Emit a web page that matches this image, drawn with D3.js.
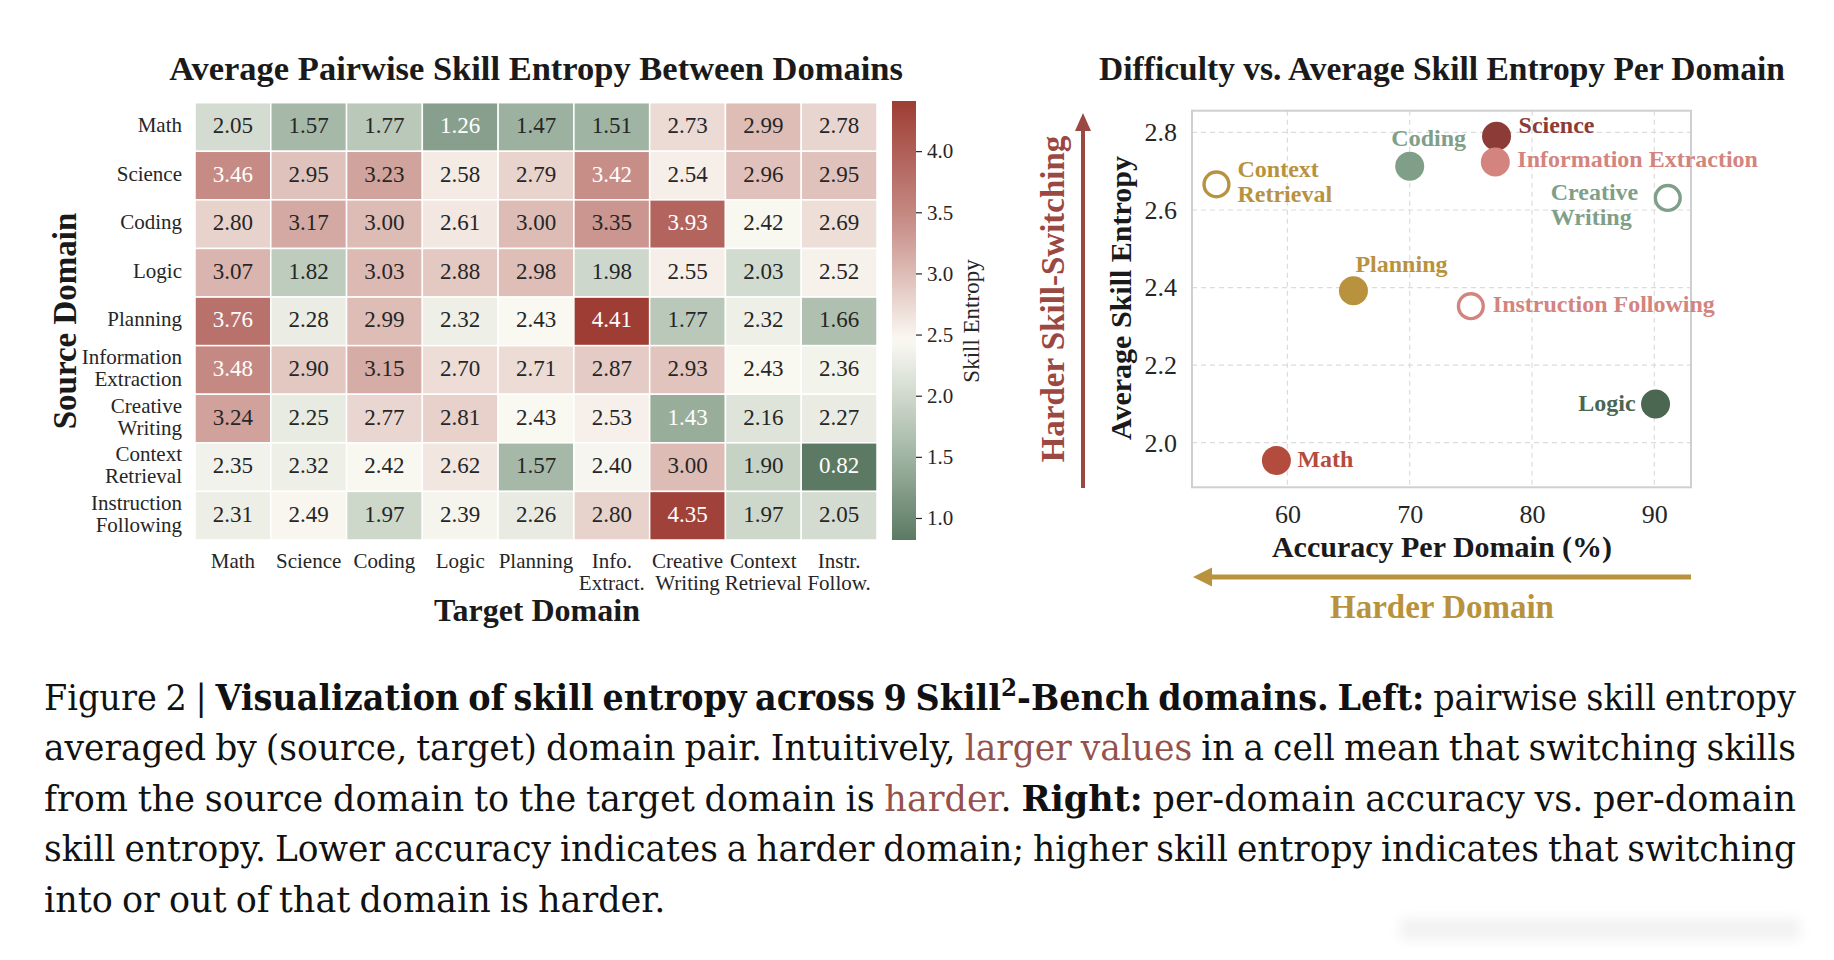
<!DOCTYPE html>
<html lang="en">
<head>
  <meta charset="UTF-8">
  <title>Skill Entropy Figure</title>
  <script src="https://d3js.org/d3.v7.min.js"></script>
  <style>
    body {
      margin: 0;
      padding: 0;
      background: #ffffff;
    }

    svg text {
      font-family: "Liberation Serif", "Times New Roman", serif;
    }

    .caption text {
      font-family: "DejaVu Serif", serif;
    }
  </style>
</head>
<body>
  <svg id="fig" width="1834" height="960"></svg>

  <script>
    // ---- heatmap data (rows = source domain, cols = target domain)
    const rowLabels = ["Math", "Science", "Coding", "Logic", "Planning", "Information\nExtraction",
      "Creative\nWriting", "Context\nRetrieval", "Instruction\nFollowing"];
    const colLabels = ["Math", "Science", "Coding", "Logic", "Planning", "Info.\nExtract.",
      "Creative\nWriting", "Context\nRetrieval", "Instr.\nFollow."];
    const entropyMatrix = [
      [2.05, 1.57, 1.77, 1.26, 1.47, 1.51, 2.73, 2.99, 2.78],
      [3.46, 2.95, 3.23, 2.58, 2.79, 3.42, 2.54, 2.96, 2.95],
      [2.80, 3.17, 3.00, 2.61, 3.00, 3.35, 3.93, 2.42, 2.69],
      [3.07, 1.82, 3.03, 2.88, 2.98, 1.98, 2.55, 2.03, 2.52],
      [3.76, 2.28, 2.99, 2.32, 2.43, 4.41, 1.77, 2.32, 1.66],
      [3.48, 2.90, 3.15, 2.70, 2.71, 2.87, 2.93, 2.43, 2.36],
      [3.24, 2.25, 2.77, 2.81, 2.43, 2.53, 1.43, 2.16, 2.27],
      [2.35, 2.32, 2.42, 2.62, 1.57, 2.40, 3.00, 1.90, 0.82],
      [2.31, 2.49, 1.97, 2.39, 2.26, 2.80, 4.35, 1.97, 2.05]
    ];
    const colorbarTicks = [1.0, 1.5, 2.0, 2.5, 3.0, 3.5, 4.0];

    // ---- scatter data
    const domainNames = ["Math", "Science", "Coding", "Logic", "Planning", "Information Extraction",
      "Creative Writing", "Context Retrieval", "Instruction Following"];
    const pointLabels = ["Math", "Science", "Coding", "Logic", "Planning", "Information Extraction",
      "Creative\nWriting", "Context\nRetrieval", "Instruction Following"];
    const accuracy = [59.1, 77.1, 70.0, 90.1, 65.4, 77.0, 91.1, 54.2, 75.0];
    const avgEntropy = [1.954, 2.790, 2.713, 2.100, 2.392, 2.724, 2.631, 2.666, 2.352];
    const xTicks = [60, 70, 80, 90];
    const yTicks = [2.0, 2.2, 2.4, 2.6, 2.8];

    // ---- styles
    const pointStyle = {
      "Math": { color: "#b44c3d", hollow: false },
      "Science": { color: "#8c3b37", hollow: false },
      "Coding": { color: "#7f9f88", hollow: false },
      "Logic": { color: "#4b6651", hollow: false },
      "Planning": { color: "#b8923c", hollow: false },
      "Information Extraction": { color: "#d4847e", hollow: false },
      "Creative Writing": { color: "#7f9f88", hollow: true },
      "Context Retrieval": { color: "#b8923f", hollow: true },
      "Instruction Following": { color: "#d4847e", hollow: true }
    };
    // label offsets relative to the marker centre
    const labelOffset = {
      "Math": { dx: 21, dy: 6, anchor: "start" },
      "Science": { dx: 22, dy: -3, anchor: "start" },
      "Coding": { dx: 19, dy: -20, anchor: "middle" },
      "Logic": { dx: -20, dy: 7, anchor: "end" },
      "Planning": { dx: 2, dy: -19, anchor: "start" },
      "Information Extraction": { dx: 22, dy: 5, anchor: "start" },
      "Creative Writing": { dx: -117, dy: 2, anchor: "start" },
      "Context Retrieval": { dx: 21, dy: -7, anchor: "start" },
      "Instruction Following": { dx: 22, dy: 6, anchor: "start" }
    };

    const svg = d3.select("#fig");
    const defs = svg.append("defs");
    const darkText = "#262626";

    // ===================== HEATMAP =====================
    const hm = { left: 195, right: 877, top: 102.7, bottom: 540 };

    const xBand = d3.scaleBand().domain(d3.range(colLabels.length)).range([hm.left, hm.right]);
    const yBand = d3.scaleBand().domain(d3.range(rowLabels.length)).range([hm.top, hm.bottom]);

    const color = d3.scaleLinear()
      .domain([0.82, 1.6, 2.45, 3.4, 4.41])
      .range(["#5c7a63", "#a9bcab", "#fbf9f3", "#c8908a", "#9e3d34"])
      .interpolate(d3.interpolateRgb)
      .clamp(true);

    const cells = [];
    entropyMatrix.forEach((row, r) => row.forEach((v, c) => cells.push({ r, c, v })));

    const cellG = svg.append("g");
    cellG.selectAll("rect")
      .data(cells)
      .enter().append("rect")
      .attr("x", d => xBand(d.c))
      .attr("y", d => yBand(d.r))
      .attr("width", xBand.bandwidth())
      .attr("height", yBand.bandwidth())
      .attr("fill", d => color(d.v))
      .attr("stroke", "#ffffff")
      .attr("stroke-width", 1.5);

    cellG.selectAll("text")
      .data(cells)
      .enter().append("text")
      .attr("x", d => xBand(d.c) + xBand.bandwidth() / 2)
      .attr("y", d => yBand(d.r) + yBand.bandwidth() / 2 + 6)
      .attr("text-anchor", "middle")
      .attr("font-size", 23)
      .attr("fill", d => (d.v > 3.4 || d.v < 1.45) ? "#ffffff" : darkText)
      .text(d => d3.format(".2f")(d.v));

    // row labels
    const leftAxis = svg.append("g")
      .attr("transform", `translate(${hm.left},0)`)
      .call(d3.axisLeft(yBand).tickSize(0).tickPadding(13).tickFormat(i => rowLabels[i]));
    leftAxis.select(".domain").remove();
    leftAxis.selectAll(".tick text").each(function (i) {
      const t = d3.select(this);
      const lines = rowLabels[i].split("\n");
      t.text(null).attr("dy", null).attr("font-size", 21)
        .attr("fill", darkText).attr("font-family", "Liberation Serif, serif");
      lines.forEach((ln, k) => {
        t.append("tspan")
          .attr("x", -13)
          .attr("y", (k - (lines.length - 1) / 2) * 22 + 5)
          .text(ln);
      });
    });

    // column labels
    const bottomAxis = svg.append("g")
      .attr("transform", `translate(0,${hm.bottom})`)
      .call(d3.axisBottom(xBand).tickSize(0).tickFormat(i => colLabels[i]));
    bottomAxis.select(".domain").remove();
    bottomAxis.selectAll(".tick text").each(function (i) {
      const t = d3.select(this);
      const lines = colLabels[i].split("\n");
      t.text(null).attr("dy", null).attr("font-size", 21)
        .attr("fill", darkText).attr("font-family", "Liberation Serif, serif");
      lines.forEach((ln, k) => {
        t.append("tspan").attr("x", 0).attr("y", 28 + k * 22).text(ln);
      });
    });

    // colorbar
    const cb = { x: 892, w: 24 };
    const cbScale = d3.scaleLinear().domain([0.82, 4.41]).range([hm.bottom, hm.top - 1.7]);
    const grad = defs.append("linearGradient")
      .attr("id", "cbGrad").attr("x1", 0).attr("y1", 1).attr("x2", 0).attr("y2", 0);
    d3.range(0, 1.0001, 0.02).forEach(t => {
      const v = 0.82 + t * (4.41 - 0.82);
      grad.append("stop").attr("offset", t).attr("stop-color", color(v));
    });
    svg.append("rect")
      .attr("x", cb.x).attr("y", cbScale(4.41))
      .attr("width", cb.w).attr("height", cbScale(0.82) - cbScale(4.41))
      .attr("fill", "url(#cbGrad)");
    const cbAxis = svg.append("g")
      .attr("transform", `translate(${cb.x + cb.w},0)`)
      .call(d3.axisRight(cbScale).tickValues(colorbarTicks).tickSize(6).tickPadding(5)
        .tickFormat(d3.format(".1f")));
    cbAxis.select(".domain").remove();
    cbAxis.selectAll(".tick line").attr("stroke", darkText).attr("stroke-width", 1.2);
    cbAxis.selectAll(".tick text").attr("font-size", 21).attr("fill", darkText)
      .attr("font-family", "Liberation Serif, serif");

    svg.append("text")
      .attr("transform", "translate(979,321) rotate(-90)")
      .attr("text-anchor", "middle")
      .attr("font-size", 23)
      .attr("fill", darkText)
      .text("Skill Entropy");

    // heatmap titles
    svg.append("text")
      .attr("x", 536).attr("y", 80)
      .attr("text-anchor", "middle")
      .attr("font-size", 34.5).attr("font-weight", "bold").attr("fill", "#1a1a1a")
      .text("Average Pairwise Skill Entropy Between Domains");
    svg.append("text")
      .attr("x", 537).attr("y", 621)
      .attr("text-anchor", "middle")
      .attr("font-size", 32).attr("font-weight", "bold").attr("fill", "#1a1a1a")
      .text("Target Domain");
    svg.append("text")
      .attr("transform", "translate(76,321) rotate(-90)")
      .attr("text-anchor", "middle")
      .attr("font-size", 33).attr("font-weight", "bold").attr("fill", "#1a1a1a")
      .text("Source Domain");

    // ===================== SCATTER =====================
    const sc = { left: 1192, right: 1691, top: 110.7, bottom: 487.3 };
    const x = d3.scaleLinear().domain([52.2, 93.0]).range([sc.left, sc.right]);
    const y = d3.scaleLinear().domain([1.885, 2.856]).range([sc.bottom, sc.top]);

    const grid = svg.append("g");
    grid.selectAll(".gx")
      .data(xTicks)
      .enter().append("line")
      .attr("x1", d => x(d)).attr("x2", d => x(d))
      .attr("y1", sc.top).attr("y2", sc.bottom)
      .attr("stroke", "#dcdcdc").attr("stroke-width", 1.2).attr("stroke-dasharray", "5,4");
    grid.selectAll(".gy")
      .data(yTicks)
      .enter().append("line")
      .attr("x1", sc.left).attr("x2", sc.right)
      .attr("y1", d => y(d)).attr("y2", d => y(d))
      .attr("stroke", "#dcdcdc").attr("stroke-width", 1.2).attr("stroke-dasharray", "5,4");

    svg.append("rect")
      .attr("x", sc.left).attr("y", sc.top)
      .attr("width", sc.right - sc.left).attr("height", sc.bottom - sc.top)
      .attr("fill", "none").attr("stroke", "#cfcfcf").attr("stroke-width", 2);

    const xAxis = svg.append("g")
      .attr("transform", `translate(0,${sc.bottom})`)
      .call(d3.axisBottom(x).tickValues(xTicks).tickSize(0).tickPadding(17).tickFormat(d3.format("d")));
    const yAxis = svg.append("g")
      .attr("transform", `translate(${sc.left},0)`)
      .call(d3.axisLeft(y).tickValues(yTicks).tickSize(0).tickPadding(15).tickFormat(d3.format(".1f")));
    [xAxis, yAxis].forEach(a => {
      a.select(".domain").remove();
      a.selectAll(".tick text").attr("font-size", 26).attr("fill", darkText)
        .attr("font-family", "Liberation Serif, serif");
    });

    const pts = domainNames.map((name, i) => ({ name, label: pointLabels[i], acc: accuracy[i], ent: avgEntropy[i] }));

    svg.append("g").selectAll("circle")
      .data(pts)
      .enter().append("circle")
      .attr("cx", d => x(d.acc))
      .attr("cy", d => y(d.ent))
      .attr("r", d => pointStyle[d.name].hollow ? 12.4 : 14.5)
      .attr("fill", d => pointStyle[d.name].hollow ? "#ffffff" : pointStyle[d.name].color)
      .attr("stroke", d => pointStyle[d.name].hollow ? pointStyle[d.name].color : "none")
      .attr("stroke-width", 3.4);

    const lab = svg.append("g").selectAll("text")
      .data(pts)
      .enter().append("text")
      .attr("text-anchor", d => labelOffset[d.name].anchor)
      .attr("font-size", 24)
      .attr("font-weight", "bold")
      .attr("fill", d => pointStyle[d.name].color);
    lab.each(function (d) {
      const t = d3.select(this);
      const o = labelOffset[d.name];
      d.label.split("\n").forEach((ln, k) => {
        t.append("tspan")
          .attr("x", x(d.acc) + o.dx)
          .attr("y", y(d.ent) + o.dy + k * 25)
          .text(ln);
      });
    });

    svg.append("text")
      .attr("x", 1442).attr("y", 80)
      .attr("text-anchor", "middle")
      .attr("font-size", 33.5).attr("font-weight", "bold").attr("fill", "#1a1a1a")
      .text("Difficulty vs. Average Skill Entropy Per Domain");
    svg.append("text")
      .attr("x", 1442).attr("y", 557)
      .attr("text-anchor", "middle")
      .attr("font-size", 30).attr("font-weight", "bold").attr("fill", "#1a1a1a")
      .text("Accuracy Per Domain (%)");
    svg.append("text")
      .attr("transform", "translate(1131,298) rotate(-90)")
      .attr("text-anchor", "middle")
      .attr("font-size", 30).attr("font-weight", "bold").attr("fill", "#1a1a1a")
      .text("Average Skill Entropy");

    // direction arrows
    const redArrow = "#9b4843", goldArrow = "#b8923c";
    svg.append("line")
      .attr("x1", 1083).attr("x2", 1083).attr("y1", 488).attr("y2", 126)
      .attr("stroke", redArrow).attr("stroke-width", 4);
    svg.append("path")
      .attr("d", "M1083,113 L1091,131 L1075,131 Z")
      .attr("fill", redArrow);
    svg.append("text")
      .attr("transform", "translate(1064,299) rotate(-90)")
      .attr("text-anchor", "middle")
      .attr("font-size", 33).attr("font-weight", "bold").attr("fill", redArrow)
      .text("Harder Skill-Switching");

    svg.append("line")
      .attr("x1", 1691).attr("x2", 1208).attr("y1", 577).attr("y2", 577)
      .attr("stroke", goldArrow).attr("stroke-width", 5);
    svg.append("path")
      .attr("d", "M1193,577 L1212,567.5 L1212,586.5 Z")
      .attr("fill", goldArrow);
    svg.append("text")
      .attr("x", 1442).attr("y", 618)
      .attr("text-anchor", "middle")
      .attr("font-size", 33).attr("font-weight", "bold").attr("fill", goldArrow)
      .text("Harder Domain");

    // ===================== CAPTION =====================
    const captionLines = [
      [["n", "Figure 2 | "], ["b", "Visualization of skill entropy across 9 Skill"], ["s", "2"],
       ["b", "-Bench domains. Left:"], ["n", " pairwise skill entropy"]],
      [["n", "averaged by (source, target) domain pair. Intuitively, "], ["r", "larger values"],
       ["n", " in a cell mean that switching skills"]],
      [["n", "from the source domain to the target domain is "], ["r", "harder"], ["n", ". "],
       ["b", "Right:"], ["n", " per-domain accuracy vs. per-domain"]],
      [["n", "skill entropy. Lower accuracy indicates a harder domain; higher skill entropy indicates that switching"]],
      [["n", "into or out of that domain is harder."]]
    ];
    const capLeft = 44, capRight = 1796, capFont = 35;
    const capBaselines = [710, 760.5, 811, 861.5, 912];

    function toWords(runs) {
      const words = [[]];
      runs.forEach(([st, txt]) => {
        txt.split(/( )/).forEach(p => {
          if (p === " ") {
            if (words[words.length - 1].length) words.push([]);
          } else if (p) {
            words[words.length - 1].push([st, p]);
          }
        });
      });
      return words.filter(w => w.length);
    }

    const cap = svg.append("g").attr("class", "caption");
    captionLines.forEach((runs, li) => {
      const words = toWords(runs);
      const lineG = cap.append("g");
      const nodes = words.map(w => {
        const t = lineG.append("text").attr("y", capBaselines[li]).attr("font-size", capFont).attr("fill", "#111111");
        w.forEach(([st, txt], k) => {
          const sp = t.append("tspan").text(txt);
          if (st === "b") sp.attr("font-weight", "bold");
          if (st === "r") sp.attr("fill", "#95514b");
          if (st === "s") sp.attr("font-weight", "bold").attr("font-size", 24).attr("dy", -14);
          if (k > 0 && w[k - 1][0] === "s") sp.attr("dy", 14);
        });
        return t;
      });
      const widths = nodes.map(n => n.node().getComputedTextLength());
      const total = d3.sum(widths);
      const minGap = capFont * 0.26;
      const isLast = li === captionLines.length - 1;
      let gap = isLast ? minGap : (capRight - capLeft - total) / (nodes.length - 1);
      let squeeze = 1;
      if (gap < minGap) {
        gap = minGap;
        squeeze = (capRight - capLeft) / (total + gap * (nodes.length - 1));
      }
      let cx = capLeft;
      nodes.forEach((n, k) => {
        n.attr("x", cx);
        cx += widths[k] + gap;
      });
      if (squeeze < 1) {
        lineG.attr("transform", `translate(${capLeft},0) scale(${squeeze},1) translate(${-capLeft},0)`);
      }
    });

    // faint smudge at the lower right of the page
    const blur = defs.append("filter").attr("id", "smudge")
      .attr("x", "-20%").attr("y", "-100%").attr("width", "140%").attr("height", "300%");
    blur.append("feGaussianBlur").attr("stdDeviation", 6);
    svg.append("rect")
      .attr("x", 1400).attr("y", 918).attr("width", 400).attr("height", 22)
      .attr("fill", "#e9e9e9").attr("opacity", 0.6).attr("filter", "url(#smudge)");
  </script>
</body>
</html>
